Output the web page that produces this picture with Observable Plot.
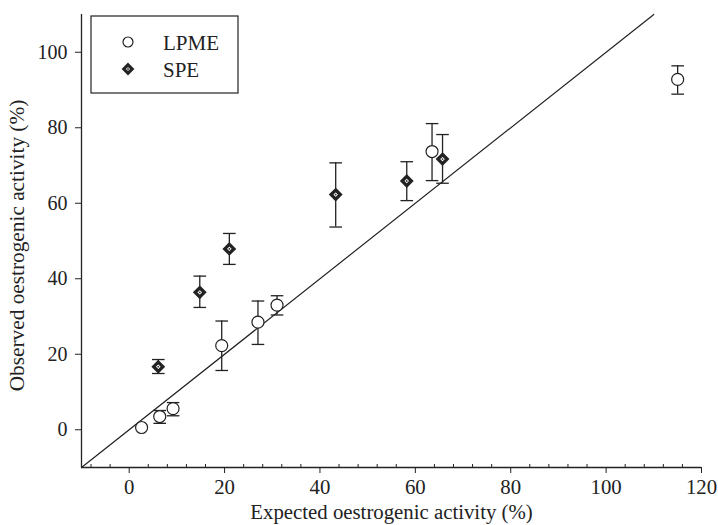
<!DOCTYPE html>
<html>
<head>
<meta charset="utf-8">
<script src="https://cdn.jsdelivr.net/npm/d3@7"></script>
<script src="https://cdn.jsdelivr.net/npm/@observablehq/plot@0.6"></script>
<style>
  html, body { margin: 0; padding: 0; background: #fff; }
  #chart { width: 718px; height: 525px; }
</style>
</head>
<body>
<div id="chart"></div>
<script>
// ---- data ----
const xTicks = [0, 20, 40, 60, 80, 100, 120];
const yTicks = [0, 20, 40, 60, 80, 100];
const xLabel = "Expected oestrogenic activity (%)";
const yLabel = "Observed oestrogenic activity (%)";
const seriesNames = ["LPME", "SPE"];

const lpmeX  = [2.6, 6.4, 9.2, 19.4, 27.0, 31.0, 63.5, 115.0];
const lpmeY  = [0.6, 3.5, 5.6, 22.3, 28.5, 33.0, 73.7, 92.8];
const lpmeLo = [null, 1.7, 3.7, 15.7, 22.6, 30.4, 66.0, 88.9];
const lpmeHi = [null, 5.1, 7.2, 28.8, 34.1, 35.5, 81.1, 96.4];

const speX  = [6.1, 14.8, 21.0, 43.3, 58.2, 65.7];
const speY  = [16.7, 36.4, 47.9, 62.3, 65.9, 71.7];
const speLo = [14.9, 32.4, 43.8, 53.7, 60.7, 65.3];
const speHi = [18.6, 40.7, 52.0, 70.7, 71.0, 78.2];

const diagonal = [-10, 110];
const xDomain = [-10, 120];
const yDomain = [-10, 110];

// ---- tables ----
const lpme = lpmeX.map((x, i) => ({x, y: lpmeY[i], lo: lpmeLo[i], hi: lpmeHi[i]}));
const spe  = speX.map((x, i) => ({x, y: speY[i], lo: speLo[i], hi: speHi[i]}));
const withErr = [...lpme, ...spe].filter(d => d.lo != null);
const caps = withErr.flatMap(d => [{x: d.x, y: d.lo}, {x: d.x, y: d.hi}]);
const diag = diagonal.map(v => ({x: v, y: v}));
const minorX = d3.range(xDomain[0] + 2, xDomain[1], 4).filter(v => v % 20 !== 0);

const ink = "#222";
const capSymbol = {draw(ctx, size) { const r = Math.sqrt(size / Math.PI); ctx.moveTo(-r, 0); ctx.lineTo(r, 0); }};
const diamondSymbol = {draw(ctx, size) { const r = Math.sqrt(size / Math.PI); ctx.moveTo(0, -r); ctx.lineTo(r, 0); ctx.lineTo(0, r); ctx.lineTo(-r, 0); ctx.closePath(); }};

const font = "'Liberation Serif', 'Times New Roman', serif";

const chart = Plot.plot({
  width: 718,
  height: 525,
  marginLeft: 81,
  marginRight: 17,
  marginTop: 14,
  marginBottom: 58,
  style: {fontFamily: font, fontSize: "20px", color: ink, background: "#fff"},
  x: {domain: xDomain},
  y: {domain: yDomain},
  marks: [
    Plot.axisX({ticks: xTicks, tickSize: 6, tickPadding: 6, label: xLabel,
                labelAnchor: "center", labelArrow: "none", labelOffset: 51, fontSize: 20.8}),
    Plot.axisX({ticks: minorX, tickSize: 3, dy: -3, tickFormat: () => "", label: null}),
    Plot.axisY({ticks: yTicks, tickSize: 6, tickPadding: 8, fontSize: 20, label: null}),
    Plot.ruleY([yDomain[0]], {x1: xDomain[0], x2: xDomain[1], stroke: ink, strokeWidth: 1.3}),
    Plot.ruleX([xDomain[0]], {y1: yDomain[0], y2: yDomain[1], stroke: ink, strokeWidth: 1.3}),
    Plot.line(diag, {x: "x", y: "y", stroke: ink, strokeWidth: 1.2}),
    Plot.ruleX(withErr, {x: "x", y1: "lo", y2: "hi", stroke: ink, strokeWidth: 1.3}),
    Plot.dot(caps, {x: "x", y: "y", r: 6.3, symbol: capSymbol, stroke: ink, strokeWidth: 1.3, fill: "none"}),
    Plot.dot(lpme, {x: "x", y: "y", r: 6, symbol: "circle", fill: "#fff", stroke: ink, strokeWidth: 1.2}),
    Plot.dot(spe, {x: "x", y: "y", r: 4.6, symbol: diamondSymbol, fill: "#fff", stroke: ink, strokeWidth: 3.3}),
    Plot.dot(spe, {x: "x", y: "y", r: 0.9, fill: "#333", stroke: "none"})
  ]
});

const svg = d3.select(chart);

// y axis title
svg.append("text")
  .attr("transform", "translate(17,245.5) rotate(-90)")
  .attr("text-anchor", "middle").attr("dy", "0.35em")
  .attr("font-family", font).attr("font-size", 21.3).attr("fill", ink)
  .text(yLabel);

// legend (inside plot, upper left)
const lg = svg.append("g").attr("font-family", font).attr("font-size", 21)
  .attr("fill", ink).attr("text-anchor", "start");
lg.append("rect").attr("x", 91).attr("y", 16).attr("width", 147).attr("height", 77)
  .attr("fill", "#fff").attr("stroke", ink).attr("stroke-width", 1.2);
lg.append("circle").attr("cx", 128).attr("cy", 42).attr("r", 5).attr("fill", "#fff")
  .attr("stroke", ink).attr("stroke-width", 1.2);
lg.append("path").attr("d", "M128,64.8L132.2,69L128,73.2L123.8,69Z").attr("fill", "#fff")
  .attr("stroke", ink).attr("stroke-width", 3.1);
lg.append("circle").attr("cx", 128).attr("cy", 69).attr("r", 0.9).attr("fill", "#333");
lg.append("text").attr("x", 163).attr("y", 50).text(seriesNames[0]);
lg.append("text").attr("x", 163).attr("y", 77).text(seriesNames[1]);

document.getElementById("chart").appendChild(chart);
</script>
</body>
</html>
